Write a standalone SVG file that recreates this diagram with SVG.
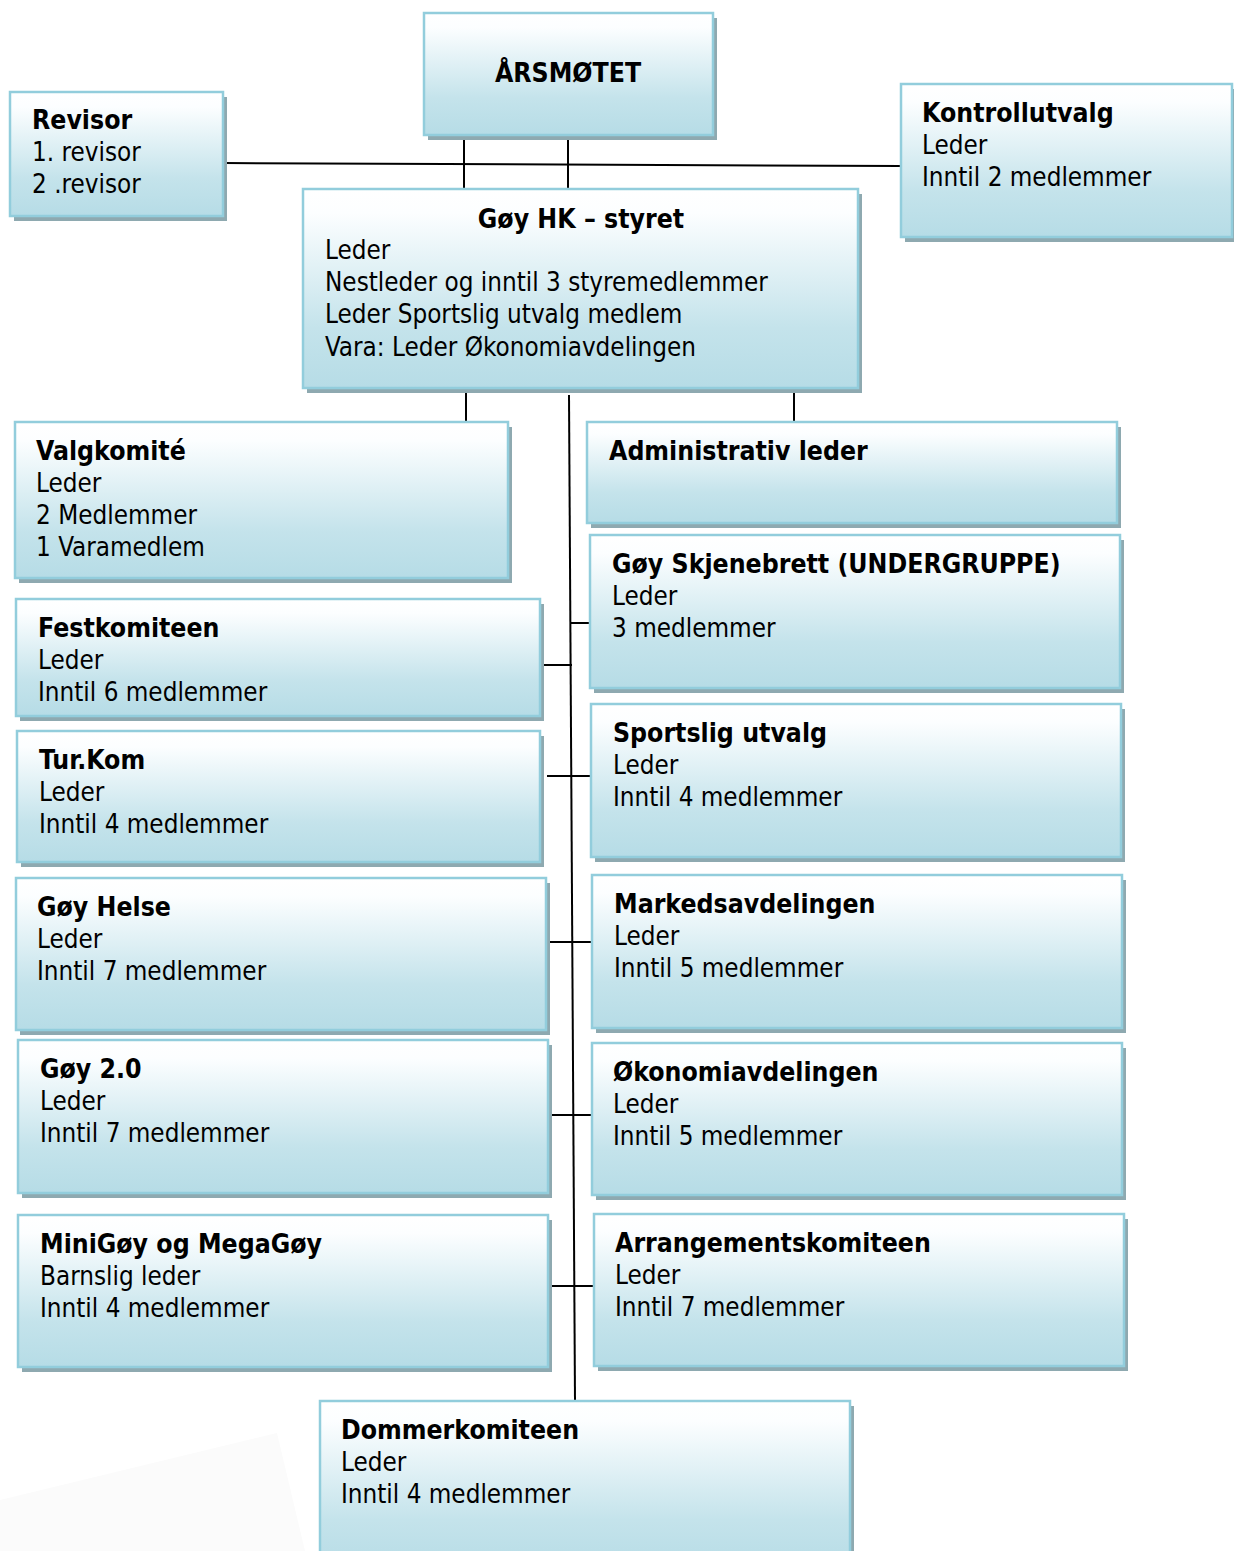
<svg xmlns="http://www.w3.org/2000/svg" width="1234" height="1551" viewBox="0 0 1234 1551">
<defs>
<linearGradient id="g" x1="0" y1="0" x2="0" y2="1">
<stop offset="0" stop-color="#ffffff"/>
<stop offset="0.12" stop-color="#fcfeff"/>
<stop offset="0.7" stop-color="#c4e3eb"/>
<stop offset="1" stop-color="#b6dce6"/>
</linearGradient>
<style>
.sh{fill:#8ea9b0}
.bx{fill:url(#g);stroke:#92cddc;stroke-width:2.5}
.t{font-family:"DejaVu Sans Condensed","DejaVu Sans",sans-serif;font-size:25.8px;fill:#000}
.b{font-weight:bold;font-size:26.4px}
.c{stroke:#000;stroke-width:2;fill:none}
</style>
</defs>
<rect width="1234" height="1551" fill="#fff"/>
<polygon points="0,1500 277,1433 305,1551 0,1551" fill="#fbfbfb"/>

<g id="connectors">
<line class="c" x1="225" y1="163" x2="901" y2="166"/>
<line class="c" x1="464" y1="136" x2="464" y2="189"/>
<line class="c" x1="568" y1="136" x2="568" y2="189"/>
<line class="c" x1="466" y1="392" x2="466" y2="421"/>
<line class="c" x1="794" y1="389" x2="794" y2="421"/>
<line class="c" x1="569" y1="395" x2="575" y2="1401"/>
<line class="c" x1="571" y1="623" x2="590" y2="623"/>
<line class="c" x1="541" y1="665" x2="572" y2="665"/>
<line class="c" x1="547" y1="776" x2="592" y2="776"/>
<line class="c" x1="548" y1="942" x2="593" y2="942"/>
<line class="c" x1="550" y1="1115" x2="592" y2="1115"/>
<line class="c" x1="550" y1="1286" x2="594" y2="1286"/>
</g>

<g id="arsmotet">
<rect class="sh" x="428" y="18" width="289" height="122"/>
<rect class="bx" x="424" y="13" width="289" height="122"/>
<text class="t b" x="568" y="82" text-anchor="middle">ÅRSMØTET</text>
</g>

<g id="revisor">
<rect class="sh" x="14" y="97" width="213" height="124"/>
<rect class="bx" x="10" y="92" width="213" height="124"/>
<text class="t b" x="32" y="129">Revisor</text>
<text class="t" x="32" y="161">1. revisor</text>
<text class="t" x="32" y="193">2 .revisor</text>
</g>

<g id="kontrollutvalg">
<rect class="sh" x="905" y="89" width="340" height="153"/>
<rect class="bx" x="901" y="84" width="331" height="153"/>
<text class="t b" x="922" y="122">Kontrollutvalg</text>
<text class="t" x="922" y="154">Leder</text>
<text class="t" x="922" y="186">Inntil 2 medlemmer</text>
</g>

<g id="styret">
<rect class="sh" x="307" y="194" width="555" height="199"/>
<rect class="bx" x="303" y="189" width="555" height="199"/>
<text class="t b" x="581" y="228" text-anchor="middle">Gøy HK – styret</text>
<text class="t" x="325" y="259">Leder</text>
<text class="t" x="325" y="291">Nestleder og inntil 3 styremedlemmer</text>
<text class="t" x="325" y="323">Leder Sportslig utvalg medlem</text>
<text class="t" x="325" y="356">Vara: Leder Økonomiavdelingen</text>
</g>

<g id="valgkomite">
<rect class="sh" x="19" y="427" width="493" height="156"/>
<rect class="bx" x="15" y="422" width="493" height="156"/>
<text class="t b" x="36" y="460">Valgkomité</text>
<text class="t" x="36" y="492">Leder</text>
<text class="t" x="36" y="524">2 Medlemmer</text>
<text class="t" x="36" y="556">1 Varamedlem</text>
</g>

<g id="administrativ-leder">
<rect class="sh" x="591" y="427" width="530" height="101"/>
<rect class="bx" x="587" y="422" width="530" height="101"/>
<text class="t b" x="609" y="460">Administrativ leder</text>
</g>

<g id="skjenebrett">
<rect class="sh" x="594" y="540" width="530" height="153"/>
<rect class="bx" x="590" y="535" width="530" height="153"/>
<text class="t b" x="612" y="573">Gøy Skjenebrett (UNDERGRUPPE)</text>
<text class="t" x="612" y="605">Leder</text>
<text class="t" x="612" y="637">3 medlemmer</text>
</g>

<g id="festkomiteen">
<rect class="sh" x="20" y="604" width="524" height="117"/>
<rect class="bx" x="16" y="599" width="524" height="117"/>
<text class="t b" x="38" y="637">Festkomiteen</text>
<text class="t" x="38" y="669">Leder</text>
<text class="t" x="38" y="701">Inntil 6 medlemmer</text>
</g>

<g id="turkom">
<rect class="sh" x="21" y="736" width="523" height="131"/>
<rect class="bx" x="17" y="731" width="523" height="131"/>
<text class="t b" x="39" y="769">Tur.Kom</text>
<text class="t" x="39" y="801">Leder</text>
<text class="t" x="39" y="833">Inntil 4 medlemmer</text>
</g>

<g id="sportslig-utvalg">
<rect class="sh" x="595" y="709" width="530" height="153"/>
<rect class="bx" x="591" y="704" width="530" height="153"/>
<text class="t b" x="613" y="742">Sportslig utvalg</text>
<text class="t" x="613" y="774">Leder</text>
<text class="t" x="613" y="806">Inntil 4 medlemmer</text>
</g>

<g id="goy-helse">
<rect class="sh" x="20" y="883" width="530" height="152"/>
<rect class="bx" x="16" y="878" width="530" height="152"/>
<text class="t b" x="37" y="916">Gøy Helse</text>
<text class="t" x="37" y="948">Leder</text>
<text class="t" x="37" y="980">Inntil 7 medlemmer</text>
</g>

<g id="markedsavdelingen">
<rect class="sh" x="596" y="880" width="530" height="153"/>
<rect class="bx" x="592" y="875" width="530" height="153"/>
<text class="t b" x="614" y="913">Markedsavdelingen</text>
<text class="t" x="614" y="945">Leder</text>
<text class="t" x="614" y="977">Inntil 5 medlemmer</text>
</g>

<g id="goy-2-0">
<rect class="sh" x="22" y="1045" width="530" height="153"/>
<rect class="bx" x="18" y="1040" width="530" height="153"/>
<text class="t b" x="40" y="1078">Gøy 2.0</text>
<text class="t" x="40" y="1110">Leder</text>
<text class="t" x="40" y="1142">Inntil 7 medlemmer</text>
</g>

<g id="okonomiavdelingen">
<rect class="sh" x="596" y="1048" width="530" height="152"/>
<rect class="bx" x="592" y="1043" width="530" height="152"/>
<text class="t b" x="613" y="1081">Økonomiavdelingen</text>
<text class="t" x="613" y="1113">Leder</text>
<text class="t" x="613" y="1145">Inntil 5 medlemmer</text>
</g>

<g id="minigoy">
<rect class="sh" x="22" y="1220" width="530" height="152"/>
<rect class="bx" x="18" y="1215" width="530" height="152"/>
<text class="t b" x="40" y="1253">MiniGøy og MegaGøy</text>
<text class="t" x="40" y="1285">Barnslig leder</text>
<text class="t" x="40" y="1317">Inntil 4 medlemmer</text>
</g>

<g id="arrangementskomiteen">
<rect class="sh" x="598" y="1219" width="530" height="152"/>
<rect class="bx" x="594" y="1214" width="530" height="152"/>
<text class="t b" x="615" y="1252">Arrangementskomiteen</text>
<text class="t" x="615" y="1284">Leder</text>
<text class="t" x="615" y="1316">Inntil 7 medlemmer</text>
</g>

<g id="dommerkomiteen">
<rect class="sh" x="324" y="1406" width="530" height="170"/>
<rect class="bx" x="320" y="1401" width="530" height="170"/>
<text class="t b" x="341" y="1439">Dommerkomiteen</text>
<text class="t" x="341" y="1471">Leder</text>
<text class="t" x="341" y="1503">Inntil 4 medlemmer</text>
</g>
</svg>
